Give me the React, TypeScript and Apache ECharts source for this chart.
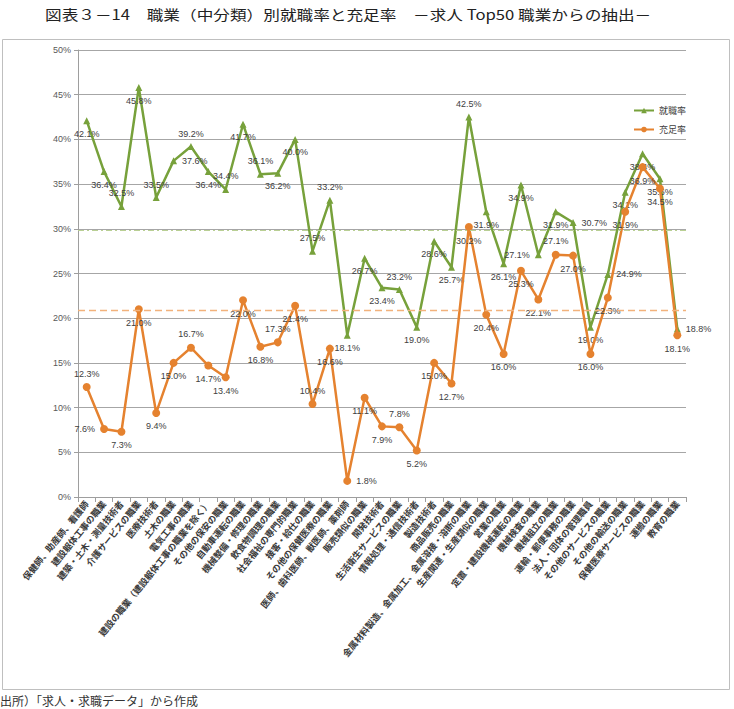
import React, { useEffect, useRef } from "react";
import * as echarts from "echarts";

// 職業（中分類）— 求人 Top50 職業から抽出した 35 職業
const occupations: string[] = [
  "保健師、助産師、看護師",
  "建設躯体工事の職業",
  "建築・土木・測量技術者",
  "介護サービスの職業",
  "医療技術者",
  "土木の職業",
  "電気工事の職業",
  "建設の職業（建設躯体工事の職業を除く）",
  "その他の保安の職業",
  "自動車運転の職業",
  "機械整備・修理の職業",
  "飲食物調理の職業",
  "社会福祉の専門的職業",
  "接客・給仕の職業",
  "その他の保健医療の職業",
  "医師、歯科医師、獣医師、薬剤師",
  "販売類似の職業",
  "開発技術者",
  "生活衛生サービスの職業",
  "情報処理・通信技術者",
  "製造技術者",
  "商品販売の職業",
  "金属材料製造、金属加工、金属溶接・溶断の職業",
  "生産関連・生産類似の職業",
  "営業の職業",
  "定置・建設機械運転の職業",
  "機械検査の職業",
  "機械組立の職業",
  "運輸・郵便事務の職業",
  "法人・団体の管理職員",
  "その他のサービスの職業",
  "その他の輸送の職業",
  "保健医療サービスの職業",
  "運搬の職業",
  "教育の職業",
];

// 就職率 (%)
const employmentRate: number[] = [
  42.1, 36.4, 32.5, 45.8, 33.5, 37.6, 39.2, 36.4, 34.4, 41.7,
  36.1, 36.2, 40.0, 27.5, 33.2, 18.1, 26.7, 23.4, 23.2, 19.0,
  28.6, 25.7, 42.5, 31.9, 26.1, 34.9, 27.1, 31.9, 30.7, 19.0,
  24.9, 34.1, 38.4, 35.6, 18.8,
];

// 充足率 (%)
const fillRate: number[] = [
  12.3, 7.6, 7.3, 21.0, 9.4, 15.0, 16.7, 14.7, 13.4, 22.0,
  16.8, 17.3, 21.4, 10.4, 16.6, 1.8, 11.1, 7.9, 7.8, 5.2,
  15.0, 12.7, 30.2, 20.4, 16.0, 25.3, 22.1, 27.1, 27.0, 16.0,
  22.3, 31.9, 36.9, 34.5, 18.1,
];

// 全職業平均（破線）
const employmentAvg = 29.8;
const fillAvg = 20.9;

const yTicks = { min: 0, max: 50, interval: 5 };

// データラベルの配置（重なりを避けるため点ごとに指定）
const employmentLabelPos: string[] = [
  "bottom", "bottom", "top", "bottom", "top", "right", "top", "bottom", "top", "bottom",
  "top", "bottom", "bottom", "top", "top", "bottom", "bottom", "bottom", "top", "bottom",
  "bottom", "bottom", "top", "bottom", "bottom", "bottom", "left", "bottom", "right", "bottom",
  "right", "bottom", "bottom", "bottom", "right",
];
const fillLabelPos: string[] = [
  "top", "left", "bottom", "bottom", "bottom", "bottom", "top", "bottom", "bottom", "bottom",
  "bottom", "top", "bottom", "top", "bottom", "right", "bottom", "bottom", "top", "bottom",
  "bottom", "bottom", "bottom", "bottom", "bottom", "bottom", "bottom", "top", "bottom", "bottom",
  "bottom", "bottom", "bottom", "bottom", "bottom",
];

const GREEN = "#77a13b";
const ORANGE = "#e5822f";
const NUM_FONT = "'Liberation Sans Narrow', 'Liberation Sans', Arial, sans-serif";
const JP_FONT = "'Noto Sans CJK JP', 'Noto Sans', sans-serif";

function withLabels(values: number[], positions: string[]) {
  return values.map((v, i) => ({
    value: v,
    label: { position: positions[i] },
  }));
}

export default function App() {
  const ref = useRef<HTMLDivElement>(null);

  useEffect(() => {
    if (!ref.current) return;
    const chart = echarts.init(ref.current, undefined, { renderer: "svg" });

    const labelStyle = {
      show: true,
      formatter: (p: any) => `${Number(p.value).toFixed(1)}%`,
      fontSize: 9,
      color: "#404040",
      fontFamily: NUM_FONT,
      distance: 5,
    };

    chart.setOption({
      animation: false,
      backgroundColor: "#ffffff",
      textStyle: { fontFamily: JP_FONT },
      graphic: [
        {
          type: "rect",
          shape: { x: 2.5, y: 39.5, width: 727, height: 650 },
          style: { fill: "none", stroke: "#bfbfbf", lineWidth: 1 },
          silent: true,
          z: -1,
        },
        {
          type: "text",
          x: 45,
          y: 14,
          scaleX: 1.19,
          style: {
            text: "図表３－14　職業（中分類）別就職率と充足率　－求人 Top50 職業からの抽出－",
            fontSize: 14,
            fontFamily: JP_FONT,
            fill: "#222",
            textVerticalAlign: "middle",
          },
        },
        {
          type: "text",
          x: 0,
          y: 694,
          style: {
            text: "出所）「求人・求職データ」から作成",
            fontSize: 12,
            fontFamily: JP_FONT,
            fill: "#333",
          },
        },
      ],
      legend: {
        orient: "vertical",
        left: 628,
        top: 101,
        itemWidth: 20,
        itemHeight: 7,
        itemGap: 10,
        textStyle: { fontSize: 9, color: "#404040", fontFamily: JP_FONT },
        data: ["就職率", "充足率"],
      },
      grid: { left: 78, right: 48, top: 50, bottom: 212, containLabel: false },
      xAxis: {
        type: "category",
        data: occupations,
        boundaryGap: true,
        axisLine: { lineStyle: { color: "#9e9e9e" } },
        axisTick: { show: true, length: 5, lineStyle: { color: "#9e9e9e" } },
        axisLabel: {
          interval: 0,
          rotate: 51,
          fontSize: 9,
          fontWeight: "bold",
          color: "#3a3a3a",
          fontFamily: JP_FONT,
          margin: 5,
        },
      },
      yAxis: {
        type: "value",
        min: yTicks.min,
        max: yTicks.max,
        interval: yTicks.interval,
        axisLine: { show: true, lineStyle: { color: "#9e9e9e" } },
        axisTick: { show: true, length: 4, lineStyle: { color: "#9e9e9e" } },
        axisLabel: {
          formatter: "{value}%",
          fontSize: 9,
          color: "#595959",
          fontFamily: NUM_FONT,
          margin: 7,
        },
        splitLine: { lineStyle: { color: "#a6a6a6", width: 1 } },
      },
      series: [
        {
          name: "就職率",
          type: "line",
          data: withLabels(employmentRate, employmentLabelPos),
          symbol: "triangle",
          symbolSize: 7,
          lineStyle: { color: GREEN, width: 2.5 },
          itemStyle: { color: GREEN },
          label: labelStyle,
          z: 3,
          markLine: {
            silent: true,
            symbol: ["none", "arrow"],
            symbolSize: [0, 8],
            label: { show: false },
            lineStyle: { color: "#b9cf94", type: [6, 3, 2, 3], width: 1.2 },
            data: [{ yAxis: employmentAvg }],
          },
        },
        {
          name: "充足率",
          type: "line",
          data: withLabels(fillRate, fillLabelPos),
          symbol: "circle",
          symbolSize: 8,
          lineStyle: { color: ORANGE, width: 2.5 },
          itemStyle: { color: ORANGE },
          label: labelStyle,
          z: 4,
          markLine: {
            silent: true,
            symbol: ["none", "none"],
            label: { show: false },
            lineStyle: { color: "#f2b27c", type: [7, 4], width: 1.4 },
            data: [{ yAxis: fillAvg }],
          },
        },
      ],
    });

    return () => chart.dispose();
  }, []);

  return (
    <div
      ref={ref}
      style={{ position: "absolute", left: 0, top: 0, width: 734, height: 709, background: "#fff" }}
    />
  );
}
